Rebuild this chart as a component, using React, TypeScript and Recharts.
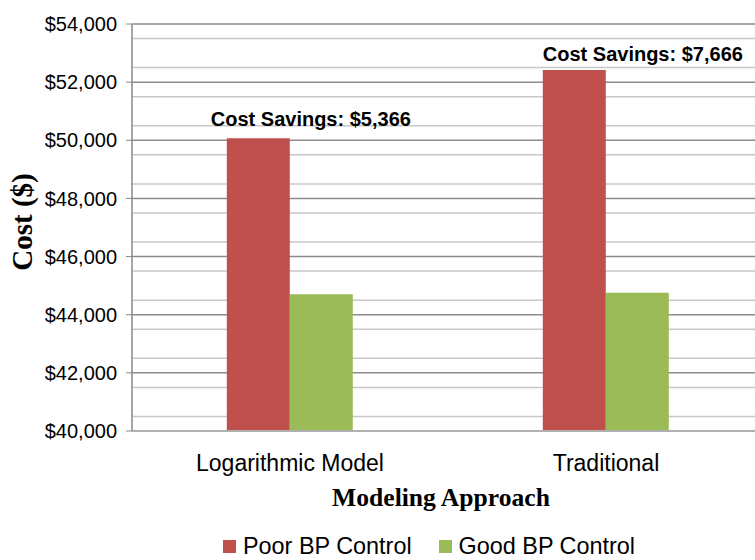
import { BarChart, Bar, XAxis, YAxis, CartesianGrid, Legend, LabelList } from 'recharts'

// ── Data ─────────────────────────────────────────────────────────────────────

const CATEGORIES = ['Logarithmic Model', 'Traditional']
const POOR_BP = [50070, 52420]
const GOOD_BP = [44704, 44754]
const SAVINGS = [5366, 7666]

const Y_TICKS = [40000, 42000, 44000, 46000, 48000, 50000, 52000, 54000]
const MINOR_TICKS = [
  40500, 41000, 41500, 42500, 43000, 43500, 44500, 45000, 45500, 46500, 47000, 47500,
  48500, 49000, 49500, 50500, 51000, 51500, 52500, 53000, 53500,
]

// ── Styles ───────────────────────────────────────────────────────────────────

const SANS = '"Liberation Sans", Arial, sans-serif'
const SERIF = '"Liberation Serif", "Times New Roman", serif'
const RED = '#C0504D'
const GREEN = '#9BBB59'

// hand-placed annotation nudges (per category)
const LABEL_OFFSETS = [
  { dx: -16, dy: -12 },
  { dx: 0, dy: -9 },
]

const money = (v: number) => `$${v.toLocaleString('en-US')}`

// ── Pieces ───────────────────────────────────────────────────────────────────

function SavingsLabel(props: any) {
  const { x, y, value } = props
  const i = typeof props.index === 'number' ? props.index : SAVINGS.indexOf(value)
  const off = LABEL_OFFSETS[i] ?? { dx: 0, dy: -10 }
  return (
    <text
      x={Number(x) + off.dx}
      y={Number(y) + off.dy}
      fontFamily={SANS}
      fontWeight="bold"
      fontSize={20}
      fill="#000"
    >
      {`Cost Savings: ${money(value)}`}
    </text>
  )
}

function YTitle() {
  const cy = 222
  return (
    <text
      x={32}
      y={cy}
      transform={`rotate(-90, 32, ${cy})`}
      textAnchor="middle"
      fontFamily={SERIF}
      fontWeight="bold"
      fontSize={29}
      fill="#000"
    >
      Cost ($)
    </text>
  )
}

function XTitle({ viewBox }: any) {
  return (
    <text
      x={441}
      y={viewBox.y + 75}
      textAnchor="middle"
      fontFamily={SERIF}
      fontWeight="bold"
      fontSize={25.6}
      fill="#000"
    >
      Modeling Approach
    </text>
  )
}

function LegendBox() {
  const items = [
    { name: 'Poor BP Control', color: RED },
    { name: 'Good BP Control', color: GREEN },
  ]
  return (
    <div style={{ display: 'flex', alignItems: 'center', fontFamily: SANS, fontSize: 23.4, lineHeight: '18px' }}>
      {items.map((it, i) => (
        <div key={it.name} style={{ display: 'flex', alignItems: 'center', marginRight: i === 0 ? 27 : 0 }}>
          <span style={{ width: 13, height: 13, background: it.color, marginRight: 7, display: 'inline-block' }} />
          <span style={{ color: '#000', whiteSpace: 'nowrap' }}>{it.name}</span>
        </div>
      ))}
    </div>
  )
}

// ── Component ────────────────────────────────────────────────────────────────

export default function App() {
  const data = CATEGORIES.map((name, i) => ({
    name,
    poor: POOR_BP[i],
    good: GOOD_BP[i],
    savings: SAVINGS[i],
  }))

  return (
    <div
      style={{
        position: 'absolute',
        left: 0,
        top: 0,
        width: 755,
        height: 560,
        overflow: 'hidden',
        background: '#fff',
      }}
    >
      <BarChart
        width={770}
        height={560}
        data={data}
        margin={{ top: 24, right: 6, bottom: 0, left: 0 }}
        barCategoryGap="30%"
        barGap={0}
      >
        <CartesianGrid vertical={false} horizontalValues={MINOR_TICKS} stroke="#c8c8c8" strokeWidth={1.5} />
        <CartesianGrid vertical={false} horizontalValues={Y_TICKS} stroke="#8c8c8c" strokeWidth={1.5} />
        <XAxis
          dataKey="name"
          height={129}
          tickLine={false}
          tickMargin={18}
          axisLine={{ stroke: '#b0b0b0', strokeWidth: 2 }}
          tick={{ fontSize: 23, fontFamily: SANS, fill: '#000' }}
          label={<XTitle />}
        />
        <YAxis
          width={132}
          domain={[40000, 54000]}
          ticks={Y_TICKS}
          allowDataOverflow
          tickFormatter={money}
          tickSize={6}
          tickMargin={9}
          tickLine={{ stroke: '#888' }}
          axisLine={{ stroke: '#888', strokeWidth: 1.5 }}
          tick={{ fontSize: 20, fontFamily: SANS, fill: '#000' }}
          label={<YTitle />}
        />
        <Legend
          layout="horizontal"
          verticalAlign="middle"
          align="center"
          content={<LegendBox />}
          wrapperStyle={{ left: 223, top: 537, width: 'auto' }}
        />
        <Bar dataKey="poor" name="Poor BP Control" fill={RED} isAnimationActive={false}>
          <LabelList dataKey="savings" content={<SavingsLabel />} />
        </Bar>
        <Bar dataKey="good" name="Good BP Control" fill={GREEN} isAnimationActive={false} />
      </BarChart>
    </div>
  )
}
